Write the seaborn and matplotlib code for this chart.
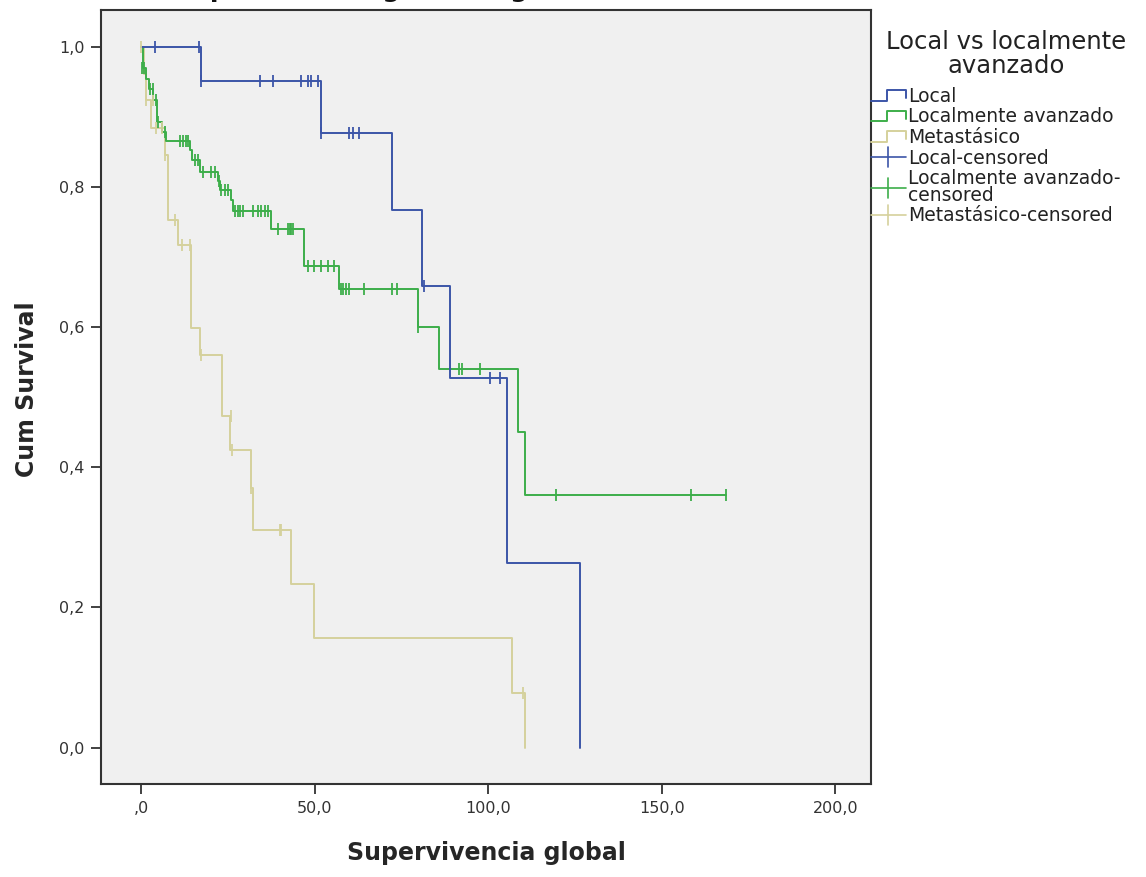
import numpy as np
import pandas as pd
import matplotlib
matplotlib.use("Agg")
import matplotlib.pyplot as plt
import seaborn as sns
from matplotlib.lines import Line2D
from matplotlib.legend_handler import HandlerBase

# ---------------- data ----------------
groups = ["Local", "Localmente avanzado", "Metastásico"]

local_t = [0, 17.4, 52.0, 72.2, 81.0, 88.9, 105.5, 126.4]
local_s = [1.0, 0.952, 0.878, 0.768, 0.659, 0.527, 0.263, 0.0]
local_ct = [4.0, 16.8, 17.4, 34.2, 38.0, 46.1, 48.0, 49.0, 50.9, 52.0, 60.0, 61.0, 62.8, 81.5, 100.6, 103.3]
local_cs = [1.0, 1.0, 0.952, 0.952, 0.952, 0.952, 0.952, 0.952, 0.952, 0.878, 0.878, 0.878, 0.878, 0.659, 0.527, 0.527]

adv_t = [0, 0.6, 1.6, 2.2, 3.6, 4.5, 4.7, 6.0, 7.2, 14.0, 14.8, 17.0, 22.2, 22.8, 26.0, 26.5,
         37.5, 47.1, 57.1, 79.8, 86.0, 108.6, 110.7, 168.4]
adv_s = [1.0, 0.970, 0.955, 0.940, 0.925, 0.910, 0.893, 0.879, 0.866, 0.853, 0.839, 0.822, 0.809, 0.796,
         0.782, 0.766, 0.740, 0.688, 0.654, 0.600, 0.540, 0.451, 0.360, 0.360]
adv_ct = [0.2, 1.0, 2.6, 3.4, 4.2, 4.8, 6.9, 11.2, 12.1, 12.9, 13.6, 15.5, 16.4, 17.9, 20.3, 21.2, 22.4,
          23.1, 24.1, 25.1, 27.0, 27.9, 28.4, 29.4, 32.2, 33.7, 34.6, 35.6, 36.5, 39.4, 42.3, 42.8, 43.2,
          43.7, 48.0, 49.9, 51.9, 53.8, 55.7, 57.5, 58.2, 59.0, 59.8, 64.3, 72.4, 73.8, 79.8, 91.7, 92.5,
          97.7, 119.5, 158.4, 168.4]
adv_cs = [0.970, 0.970, 0.940, 0.940, 0.925, 0.893, 0.879, 0.866, 0.866, 0.866, 0.866, 0.839, 0.839,
          0.822, 0.822, 0.822, 0.809, 0.796, 0.796, 0.796, 0.766, 0.766, 0.766, 0.766, 0.766, 0.766,
          0.766, 0.766, 0.766, 0.740, 0.740, 0.740, 0.740, 0.740, 0.688, 0.688, 0.688, 0.688, 0.688,
          0.654, 0.654, 0.654, 0.654, 0.654, 0.654, 0.654, 0.600, 0.540, 0.540, 0.540, 0.360, 0.360, 0.360]

met_t = [0, 0.8, 1.5, 3.0, 6.9, 7.9, 10.7, 14.5, 16.9, 23.4, 25.6, 31.8, 32.3, 43.2, 49.9, 106.8, 110.7]
met_s = [1.0, 0.962, 0.925, 0.885, 0.846, 0.753, 0.718, 0.599, 0.561, 0.474, 0.425, 0.370, 0.311,
         0.233, 0.156, 0.078, 0.0]
met_ct = [0.0, 1.6, 3.5, 4.3, 6.0, 7.0, 9.7, 11.7, 14.0, 17.4, 25.9, 26.3, 31.8, 40.0, 40.4, 110.2]
met_cs = [1.0, 0.925, 0.925, 0.885, 0.885, 0.846, 0.753, 0.718, 0.718, 0.561, 0.474, 0.425, 0.370,
          0.311, 0.311, 0.078]

x_ticks = [0, 50, 100, 150, 200]
x_ticklabels = [",0", "50,0", "100,0", "150,0", "200,0"]
y_ticks = [0.0, 0.2, 0.4, 0.6, 0.8, 1.0]
y_ticklabels = ["0,0", "0,2", "0,4", "0,6", "0,8", "1,0"]

colors = {"Local": "#3c55a8", "Localmente avanzado": "#3dae4a", "Metastásico": "#d5d19c"}

# ---------------- build tables ----------------
curves = pd.concat([
    pd.DataFrame({"t": local_t, "s": local_s, "g": groups[0]}),
    pd.DataFrame({"t": adv_t, "s": adv_s, "g": groups[1]}),
    pd.DataFrame({"t": met_t, "s": met_s, "g": groups[2]}),
], ignore_index=True)
cens = pd.concat([
    pd.DataFrame({"t": local_ct, "s": local_cs, "g": groups[0]}),
    pd.DataFrame({"t": adv_ct, "s": adv_cs, "g": groups[1]}),
    pd.DataFrame({"t": met_ct, "s": met_cs, "g": groups[2]}),
], ignore_index=True)

sns.set_style("white")
plt.rcParams["font.family"] = ["DejaVu Sans"]

W, H = 1146, 877
ax_l, ax_r, ax_t, ax_b = 101, 871, 10, 784
fig = plt.figure(figsize=(W / 100, H / 100), dpi=100)
ax = fig.add_axes([ax_l / W, 1 - ax_b / H, (ax_r - ax_l) / W, (ax_b - ax_t) / H])
ax.set_facecolor("#f0f0f0")

order = ["Metastásico", "Localmente avanzado", "Local"]
for g in order:
    sns.lineplot(data=curves[curves.g == g], x="t", y="s", color=colors[g], drawstyle="steps-post",
                 estimator=None, sort=False, lw=1.4, ax=ax, legend=False)
    sns.scatterplot(data=cens[cens.g == g], x="t", y="s", color=colors[g], marker="|", s=85,
                    linewidth=1.3, ax=ax, legend=False, zorder=3)

ax.set_xlim(-11.5, 210.3)
ax.set_ylim(-0.052, 1.053)
ax.set_xticks(x_ticks)
ax.set_xticklabels(x_ticklabels)
ax.set_yticks(y_ticks)
ax.set_yticklabels(y_ticklabels)
ax.tick_params(axis="both", direction="out", length=7, width=1.3, color="#333333",
               labelsize=11.5, labelcolor="#333333", pad=5, left=True, bottom=True)
for sp in ax.spines.values():
    sp.set_color("#333333")
    sp.set_linewidth(1.5)

lab_font = dict(fontsize=17, fontweight="bold", family=["DejaVu Sans"])
ax.set_xlabel("Supervivencia global", labelpad=18, **lab_font)
ax.set_ylabel("Cum Survival", **lab_font)
ax.yaxis.set_label_coords((39 - ax_l) / (ax_r - ax_l), (ax_b - 389) / (ax_b - ax_t))

# title (cut off at the top, as in the reference: only its lowest part shows)
fig.text((ax_l + ax_r) / 2 / W, 1.0 + 2.5 / H, "Supervivencia global según estadio tumoral",
         ha="center", va="baseline", fontsize=18, fontweight="bold", color="#111111")


# ---------------- legend ----------------
class StepHandler(HandlerBase):
    def create_artists(self, legend, orig_handle, xdescent, ydescent, width, height, fontsize, trans):
        x0 = -xdescent
        xs = [x0, x0 + 0.45 * width, x0 + 0.45 * width, x0 + width, x0 + width]
        ys = [0.1 * height, 0.1 * height, 0.9 * height, 0.9 * height, 0.3 * height]
        ys = [y - ydescent for y in ys]
        ln = Line2D(xs, ys, color=orig_handle.get_color(), lw=1.4)
        ln.set_transform(trans)
        return [ln]


class CensHandler(HandlerBase):
    def create_artists(self, legend, orig_handle, xdescent, ydescent, width, height, fontsize, trans):
        x0 = -xdescent
        yc = 0.5 * height - ydescent
        h = Line2D([x0, x0 + width], [yc, yc], color=orig_handle.get_color(), lw=1.2)
        v = Line2D([x0 + 0.5 * width, x0 + 0.5 * width], [yc - 0.75 * height, yc + 0.75 * height],
                   color=orig_handle.get_color(), lw=1.2)
        h.set_transform(trans)
        v.set_transform(trans)
        return [h, v]


class StepLine(Line2D):
    pass


class CensLine(Line2D):
    pass


handles = [StepLine([], [], color=colors[g]) for g in groups] + \
          [CensLine([], [], color=colors[g]) for g in groups]
labels = ["Local", "Localmente avanzado", "Metastásico", "Local-censored",
          "Localmente avanzado-\ncensored", "Metastásico-censored"]
leg_top = 87
leg = ax.legend(handles, labels, handler_map={StepLine: StepHandler(), CensLine: CensHandler()},
                loc="upper left", bbox_to_anchor=(1.0, (ax_b - leg_top) / (ax_b - ax_t)),
                frameon=False, borderaxespad=0, borderpad=0, handlelength=1.85,
                handletextpad=0.12, labelspacing=0.08, fontsize=13.5)
for t in leg.get_texts():
    t.set_color("#222222")
    t.set_linespacing(0.85)

# legend title, centred above the entries
fig.text(1006 / W, 1 - 54 / H, "Local vs localmente\navanzado", ha="center", va="center",
         fontsize=17.5, color="#222222", multialignment="center", linespacing=1.0)

fig.savefig("out.png", dpi=100, facecolor="white")
